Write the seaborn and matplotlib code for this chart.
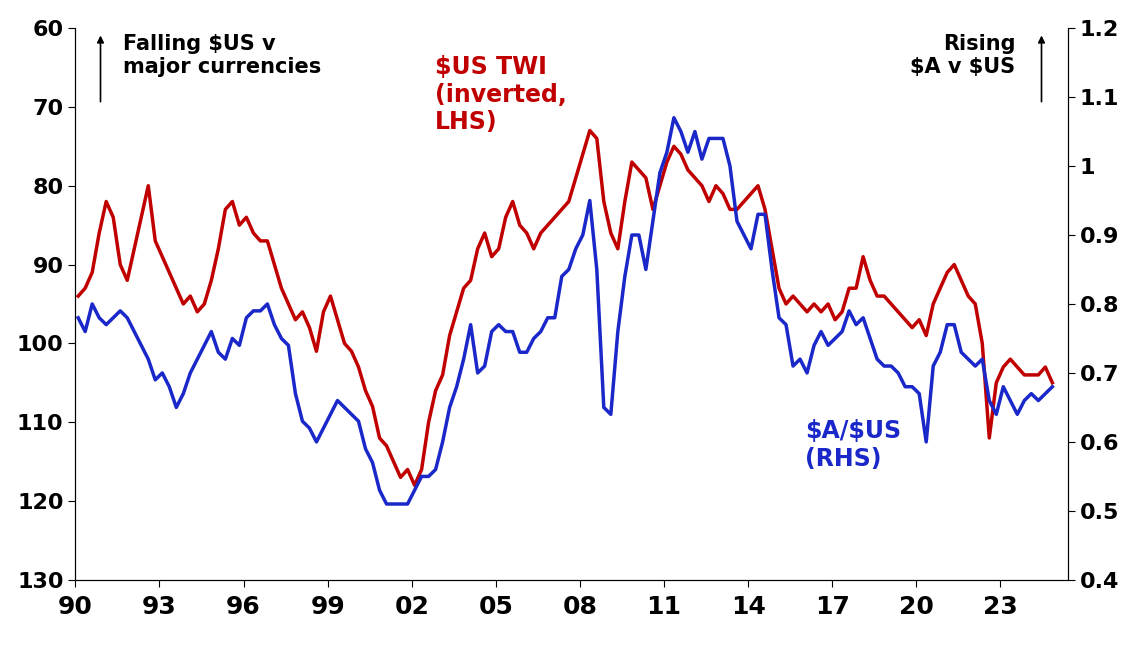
import numpy as np
import pandas as pd
import matplotlib
matplotlib.use("Agg")
import matplotlib.pyplot as plt
import seaborn as sns

plt.rcParams["text.parse_math"] = False

start_year = 1990
twi = [94, 93, 91, 86, 82, 84, 90, 92, 88, 84, 80, 87, 89, 91, 93, 95,
       94, 96, 95, 92, 88, 83, 82, 85, 84, 86, 87, 87, 90, 93, 95, 97,
       96, 98, 101, 96, 94, 97, 100, 101, 103, 106, 108, 112, 113, 115, 117, 116,
       118, 116, 110, 106, 104, 99, 96, 93, 92, 88, 86, 89, 88, 84, 82, 85,
       86, 88, 86, 85, 84, 83, 82, 79, 76, 73, 74, 82, 86, 88, 82, 77,
       78, 79, 83, 80, 77, 75, 76, 78, 79, 80, 82, 80, 81, 83, 83, 82,
       81, 80, 83, 88, 93, 95, 94, 95, 96, 95, 96, 95, 97, 96, 93, 93,
       89, 92, 94, 94, 95, 96, 97, 98, 97, 99, 95, 93, 91, 90, 92, 94,
       95, 100, 112, 105, 103, 102, 103, 104, 104, 104, 103, 105]
aud = [0.78, 0.76, 0.80, 0.78, 0.77, 0.78, 0.79, 0.78, 0.76, 0.74, 0.72, 0.69,
       0.70, 0.68, 0.65, 0.67, 0.70, 0.72, 0.74, 0.76, 0.73, 0.72, 0.75, 0.74,
       0.78, 0.79, 0.79, 0.80, 0.77, 0.75, 0.74, 0.67, 0.63, 0.62, 0.60, 0.62,
       0.64, 0.66, 0.65, 0.64, 0.63, 0.59, 0.57, 0.53, 0.51, 0.51, 0.51, 0.51,
       0.53, 0.55, 0.55, 0.56, 0.60, 0.65, 0.68, 0.72, 0.77, 0.70, 0.71, 0.76,
       0.77, 0.76, 0.76, 0.73, 0.73, 0.75, 0.76, 0.78, 0.78, 0.84, 0.85, 0.88,
       0.90, 0.95, 0.85, 0.65, 0.64, 0.76, 0.84, 0.90, 0.90, 0.85, 0.92, 0.99,
       1.02, 1.07, 1.05, 1.02, 1.05, 1.01, 1.04, 1.04, 1.04, 1.00, 0.92, 0.90,
       0.88, 0.93, 0.93, 0.85, 0.78, 0.77, 0.71, 0.72, 0.70, 0.74, 0.76, 0.74,
       0.75, 0.76, 0.79, 0.77, 0.78, 0.75, 0.72, 0.71, 0.71, 0.70, 0.68, 0.68,
       0.67, 0.60, 0.71, 0.73, 0.77, 0.77, 0.73, 0.72, 0.71, 0.72, 0.66, 0.64,
       0.68, 0.66, 0.64, 0.66, 0.67, 0.66, 0.67, 0.68]
xtick_labels = ["90", "93", "96", "99", "02", "05", "08", "11", "14", "17", "20", "23"]

t = start_year + np.arange(len(twi)) * 0.25 + 0.1
df = pd.DataFrame({"t": t, "twi": twi, "aud": aud})

red, blue = "#C00000", "#1A27C9"
fig = plt.figure(figsize=(11.42, 6.53), dpi=100)
ax = fig.add_axes([0.066, 0.112, 0.869, 0.845])
ax2 = ax.twinx()
sns.lineplot(data=df, x="t", y="twi", ax=ax, color=red, lw=2.5)
sns.lineplot(data=df, x="t", y="aud", ax=ax2, color=blue, lw=2.5)
ax.set_ylim(130, 60)
ax2.set_ylim(0.4, 1.2)
ax.set_xlim(1990, 2025.4)
ax.set_xticks([1990 + 3 * i for i in range(len(xtick_labels))])
ax.set_xticklabels(xtick_labels)
ax.set_yticks(range(60, 131, 10))
ax2.set_yticks(np.arange(0.4, 1.21, 0.1))
ax2.set_yticklabels(["0.4", "0.5", "0.6", "0.7", "0.8", "0.9", "1", "1.1", "1.2"])
for a in (ax, ax2):
    a.set_xlabel(""); a.set_ylabel("")
    a.spines["top"].set_visible(False)
    a.tick_params(labelsize=16, length=5, direction="out")
    for lab in a.get_xticklabels() + a.get_yticklabels():
        lab.set_fontweight("bold")
ax.tick_params(axis="x", labelsize=18, pad=6)
for lab in ax.get_xticklabels():
    lab.set_fontweight("bold")

fig.text(0.108, 0.915, "Falling $US v\nmajor currencies", fontsize=15, fontweight="bold", va="center")
fig.text(0.889, 0.915, "Rising\n$A v $US", fontsize=15, fontweight="bold", va="center", ha="right")
fig.text(0.381, 0.855, "$US TWI\n(inverted,\nLHS)", fontsize=17, fontweight="bold", color=red, va="center")
fig.text(0.705, 0.318, "$A/$US\n(RHS)", fontsize=17, fontweight="bold", color=blue, va="center")
fig.patches.append(matplotlib.patches.FancyArrowPatch((0.088, 0.84), (0.088, 0.95), transform=fig.transFigure,
                   arrowstyle="-|>", mutation_scale=10, lw=1.2, color="black"))
fig.patches.append(matplotlib.patches.FancyArrowPatch((0.912, 0.84), (0.912, 0.95), transform=fig.transFigure,
                   arrowstyle="-|>", mutation_scale=10, lw=1.2, color="black"))
fig.savefig("out.png", dpi=100)
